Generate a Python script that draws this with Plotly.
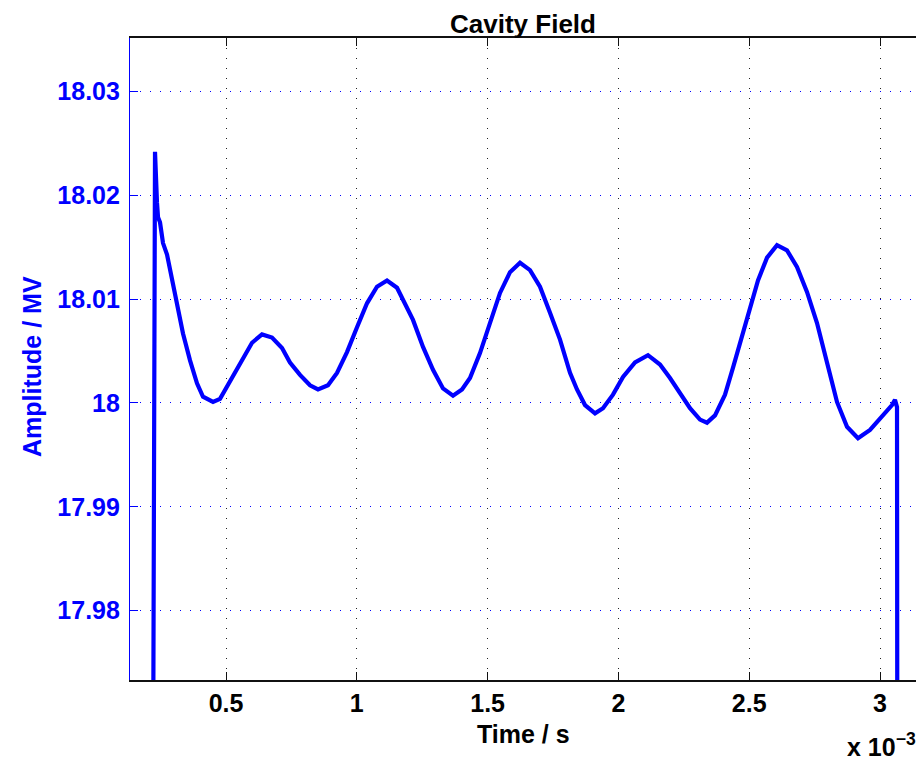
import plotly.graph_objects as go

# time in units of 1e-3 s
time_ms = [0.2220, 0.2286, 0.2362, 0.2401, 0.2477, 0.2592, 0.2745, 0.2859, 0.3127, 0.3356,
           0.3624, 0.3891, 0.4121, 0.4503, 0.4771, 0.5076, 0.5268, 0.5612, 0.5994, 0.6376,
           0.6758, 0.7141, 0.7446, 0.7829, 0.8211, 0.8517, 0.8899, 0.9243, 0.9625, 1.0008,
           1.0390, 1.0772, 1.1154, 1.1537, 1.1843, 1.2148, 1.2531, 1.2913, 1.3295, 1.3677,
           1.4021, 1.4327, 1.4709, 1.5092, 1.5474, 1.5856, 1.6239, 1.6621, 1.7003, 1.7385,
           1.7768, 1.8150, 1.8417, 1.8723, 1.9106, 1.9411, 1.9793, 2.0176, 2.0635, 2.1131,
           2.1590, 2.1972, 2.2355, 2.2737, 2.3119, 2.3387, 2.3693, 2.4075, 2.4381, 2.4725,
           2.5031, 2.5336, 2.5681, 2.6063, 2.6445, 2.6827, 2.7209, 2.7592, 2.7974, 2.8356,
           2.8739, 2.9159, 2.9618, 3.0076, 3.0459, 3.0573, 3.0650, 3.0660]
amplitude_mv = [17.9700, 18.0242, 18.0193, 18.0179, 18.0174, 18.0154, 18.0143, 18.0128, 18.0092, 18.0067,
                18.0041, 18.0019, 18.0006, 18.0001, 18.0004, 18.0017, 18.0027, 18.0041, 18.0058, 18.0066,
                18.0063, 18.0053, 18.0039, 18.0027, 18.0017, 18.0013, 18.0017, 18.0029, 18.0049, 18.0073,
                18.0096, 18.0112, 18.0118, 18.0111, 18.0096, 18.0080, 18.0054, 18.0032, 18.0014, 18.0007,
                18.0013, 18.0024, 18.0048, 18.0077, 18.0106, 18.0126, 18.0135, 18.0128, 18.0112, 18.0087,
                18.0061, 18.0029, 18.0013, 17.9998, 17.9990, 17.9995, 18.0008, 18.0025, 18.0039, 18.0046,
                18.0037, 18.0024, 18.0010, 17.9995, 17.9984, 17.9981, 17.9988, 18.0008, 18.0034, 18.0064,
                18.0092, 18.0118, 18.0140, 18.0152, 18.0147, 18.0131, 18.0107, 18.0077, 18.0039, 18.0001,
                17.9977, 17.9966, 17.9974, 17.9987, 17.9998, 18.0003, 17.9996, 17.9700]

x_tick_vals = [0.5, 1, 1.5, 2, 2.5, 3]
x_tick_text = ["0.5", "1", "1.5", "2", "2.5", "3"]
y_tick_vals = [17.98, 17.99, 18.00, 18.01, 18.02, 18.03]
y_tick_text = ["17.98", "17.99", "18", "18.01", "18.02", "18.03"]

FONT = "Liberation Sans"
BLUE = "#0000ff"

fig = go.Figure()
fig.add_trace(go.Scatter(x=time_ms, y=amplitude_mv, mode="lines",
                         line=dict(color=BLUE, width=4.2), showlegend=False))

W, H = 916, 758
L, R, T, B = 130, 0, 38, 78
fig.update_layout(
    width=W, height=H,
    margin=dict(l=L, r=R, t=T, b=B, autoexpand=False),
    paper_bgcolor="white", plot_bgcolor="white",
    title=dict(text="<b>Cavity Field</b>", x=(L + (W - R - L) / 2) / W, xanchor="center",
               y=1 - 24 / H, yanchor="middle", yref="container",
               font=dict(family=FONT, size=26, color="black")),
    xaxis=dict(range=[0.1330, 3.1376], tickvals=x_tick_vals, ticktext=x_tick_text,
               showline=True, linecolor="#111", linewidth=1.5, mirror="ticks",
               ticks="inside", ticklen=8, tickcolor="#111", tickwidth=1,
               showgrid=True, gridcolor="#222", gridwidth=1, griddash="1px,9px",
               zeroline=False, ticklabelstandoff=0,
               tickfont=dict(family=FONT, size=25, color="black", weight="bold")),
    yaxis=dict(range=[17.97331, 18.03516], tickvals=y_tick_vals, ticktext=y_tick_text,
               showline=True, linecolor=BLUE, linewidth=1.2, mirror=False,
               ticks="inside", ticklen=8, tickcolor=BLUE, tickwidth=1,
               showgrid=True, gridcolor=BLUE, gridwidth=1, griddash="1px,9px",
               zeroline=False, ticklabelstandoff=4,
               tickfont=dict(family=FONT, size=25, color=BLUE, weight="bold")),
    annotations=[
        dict(text="<b>Time / s</b>", xref="paper", yref="paper", x=0.5, y=-(734 - 680) / 642,
             xanchor="center", yanchor="middle", showarrow=False,
             font=dict(family=FONT, size=25, color="black")),
        dict(text="<b>Amplitude / MV</b>", xref="paper", yref="paper", x=-(130 - 32) / 786,
             y=(680 - 367) / 642, xanchor="center", yanchor="middle", textangle=-90,
             showarrow=False, font=dict(family=FONT, size=25, color=BLUE)),
        dict(text="<b>x 10<sup>\u22123</sup></b>", xref="paper", yref="paper",
             x=(845 - 130) / 786, y=-(745 - 680) / 642, xanchor="left", yanchor="middle",
             showarrow=False, font=dict(family=FONT, size=25, color="black")),
    ],
)

fig.write_html("out.html")
